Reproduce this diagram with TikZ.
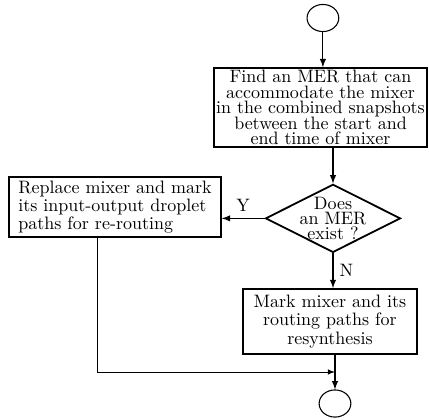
\documentclass[tikz,border=0pt]{standalone}
\usepackage{tikz}
\usetikzlibrary{positioning}
\usetikzlibrary{arrows,shapes}

\newcommand{\tightlines}{\fontsize{10}{8.6}\selectfont\lineskiplimit=-100pt\relax}
\newcommand{\diamondlines}{\fontsize{10}{8.5}\selectfont\lineskiplimit=-100pt\relax}
\tikzset{procbox/.style={draw, rectangle, line width=1pt, inner sep=1pt}}
\tikzset{decision/.style={draw, diamond, line width=1pt, inner sep=-12pt, minimum width=2.64cm, minimum height=1.33cm}}
\tikzset{terminal/.style={draw, ellipse, semithick, inner sep=0pt, minimum width=0.62cm, minimum height=0.53cm}}
\tikzset{flow/.style={->, semithick}}

\begin{document}
\begin{tikzpicture}[>=latex]
\useasboundingbox (0,0) rectangle (8.383,8.207);
\node[terminal] (start) at (6.31,7.855) {};
\node[procbox, font=\tightlines, align=center, minimum width=4.16cm, minimum height=1.54cm] (find) at (6.263,6.106)
  {Find an MER that can\\accommodate the mixer\\in the combined snapshots\\between the start and\\end time of mixer};
\node[decision, font=\diamondlines, align=center] (exist) at (6.507,3.94) {Does\\an MER\\exist ?};
\node[procbox, align=left, font=\fontsize{10}{10.2}\selectfont, minimum width=4.14cm, minimum height=1.17cm] (replace) at (2.247,4.162)
  {Replace mixer and mark\\its input-output droplet\\paths for re-routing};
\node[procbox, align=center, font=\fontsize{10}{10.2}\selectfont, minimum width=3.4cm, minimum height=1.27cm] (resyn) at (6.448,1.925)
  {Mark mixer and its\\routing paths for\\resynthesis};
\node[terminal] (stop) at (6.546,0.322) {};
\coordinate (merge) at (6.546,0.938);
% connectors
\draw[flow] (start.south) -- (start.south |- find.north);
\draw[flow] (exist.north |- find.south) -- (exist.north);
\draw[flow] (exist.west) -- (exist.west -| replace.east) node[midway, above] {Y};
\draw[flow] (exist.south) -- (exist.south |- resyn.north) node[midway, right] {N};
\draw[flow] (stop.north |- resyn.south) -- (stop.north);
\draw[->] ([xshift=-0.35cm]replace.south) |- (merge);
\end{tikzpicture}
\end{document}
